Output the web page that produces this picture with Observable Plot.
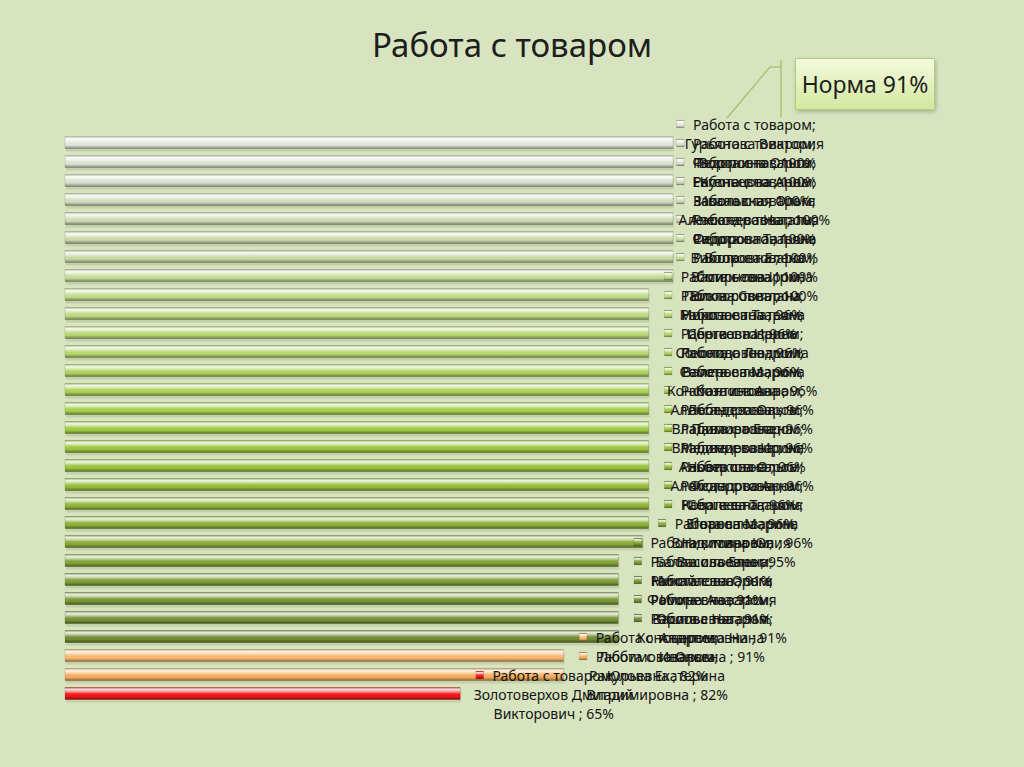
<!DOCTYPE html>
<html><head><meta charset="utf-8">
<script src="https://cdn.jsdelivr.net/npm/d3@7"></script>
<script src="https://cdn.jsdelivr.net/npm/@observablehq/plot@0.6"></script>
<style>
body{margin:0;background:#d8e4bf;width:1024px;height:767px;overflow:hidden;position:relative;font-family:"Noto Sans",sans-serif}
#title{height:100px;position:relative;color:#1e1e1e}
#title span{position:absolute;left:0;right:0;top:28px;line-height:1;text-align:center;font-size:33px}
#norma{position:absolute;left:795px;top:58px;width:140px;height:52px;box-sizing:border-box;border:1px solid #b3cd7a;background:linear-gradient(#f3f9dc,#d3e9a0);box-shadow:1px 2px 4px rgba(0,0,0,0.22);display:flex;align-items:center;justify-content:center;font-size:23px;color:#1e1e1e;border-radius:2px}
#callout{position:absolute;left:0;top:0;pointer-events:none}
</style></head>
<body>
<div id="title"><span>Работа с товаром</span></div>
<div id="chart"></div>
<svg id="callout" width="1024" height="767"><polyline points="781,60 781,117" fill="none" stroke="#a9c470" stroke-width="1.5"/><polyline points="781,67 770,67 727,118" fill="none" stroke="#a9c470" stroke-width="1.5"/></svg>
<div id="norma">Норма 91%</div>
<script>
const series = "Работа с товаром";
const names = ["Гурьянова Виктория","Воронина Ольга","Кузнецова Анна","Запольская Ольга","Алексеева Наталья","Сидорова Татьяна","Волкова Елена","Смирнова Ирина","Попова Светлана","Морозова Татьяна","Цветкова Ирина","Соколова Людмила","Семенова Марина","Козлова Анна","Лебедева Ольга","Павлова Елена","Медведева Ирина","Новикова Ольга","Федорова Анна","Ковалева Татьяна","Егорова Марина","Никитина Юлия","Балашова Елена","Михайлова Ольга","Фомина Анастасия","Орлова Наталья","Андреева Нина","Любимова Ольга","Ракулова Екатерина","Золотоверхов Дмитрий"];
const patronymics = ["Федоровна","Евгеньевна","Ивановна","Александровна","Федоровна","Викторовна","Васильевна","Викторовна","Николаевна","Сергеевна","Леонидовна","Валерьевна","Константиновна","Александровна","Владимировна","Владимировна","Альбертовна","Александровна","Сергеевна","Ивановна","Владимировна","Васильевна","Николаевна","Игоревна","Васильевна","Константиновна","Ивановна","Юрьевна","Владимировна","Викторович"];
const values = [100,100,100,100,100,100,100,100,96,96,96,96,96,96,96,96,96,96,96,96,96,95,91,91,91,91,91,82,82,65];
const palette = ["#e2e6da","#dde3d2","#d8dfc9","#d3dcc0","#cfdab7","#cbd9ad","#c8daa2","#c6db97","#c3dc8c","#bfda80","#bad875","#b5d66a","#afd45e","#aad253","#a5cf4a","#a1cb42","#9dc73d","#99c23a","#94bc38","#90b637","#8bb036","#86a936","#80a236","#7c9c35","#789734","#749133","#708b32","#f8b86a","#f6ad5d","#f21414"];

const data = names.map((n, i) => ({name: n, patronymic: patronymics[i], value: values[i]}));
const labelX = d => Math.min(d.value, 98);

const plot = Plot.plot({
  width: 1024, height: 667,
  marginTop: 25, marginBottom: 57, marginLeft: 65, marginRight: 351,
  x: {domain: [0, 100], axis: null},
  y: {domain: names, axis: null, padding: 0},
  color: {domain: names, range: palette},
  style: {background: "transparent", fontFamily: "Noto Sans", overflow: "visible"},
  marks: [
    Plot.barX(data, {x: "value", y: "name", fill: "#3a4a20", fillOpacity: 0.13, insetTop: 3.5, insetBottom: 3.5, dy: 3, dx: 1}),
    Plot.barX(data, {x: "value", y: "name", fill: "name", insetTop: 3.5, insetBottom: 3.5}),
    Plot.barX(data, {x: "value", y: "name", fill: "url(#shine)", stroke: "#000", strokeOpacity: 0.18, strokeWidth: 0.6, insetTop: 3.5, insetBottom: 3.5}),
    Plot.dot(data, {x: labelX, y: "name", symbol: "square", r: 4.3, fill: "name", dx: 19, dy: -19}),
    Plot.dot(data, {x: labelX, y: "name", symbol: "square", r: 4.3, fill: "url(#shine)", stroke: "#000", strokeOpacity: 0.2, strokeWidth: 0.5, dx: 19, dy: -19}),
    Plot.text(data, {x: labelX, y: "name", text: d => `${series};\n${d.name}\n${d.patronymic} ; ${d.value}%`, dx: 93, fontSize: 14, lineHeight: 1.34, fill: "#141414", textAnchor: "middle"})
  ]
});

const defs = d3.select(plot).insert("defs", ":first-child");
const g = defs.append("linearGradient").attr("id", "shine").attr("x1", 0).attr("y1", 0).attr("x2", 0).attr("y2", 1);
[[0, "#000", 0.15], [0.1, "#fff", 0.9], [0.3, "#fff", 0.65], [0.5, "#fff", 0.15], [0.62, "#fff", 0], [0.8, "#000", 0.1], [0.92, "#000", 0.3], [1, "#000", 0.5]]
  .forEach(([o, c, a]) => g.append("stop").attr("offset", o).attr("stop-color", c).attr("stop-opacity", a));

document.getElementById("chart").appendChild(plot);
</script>
</body></html>
